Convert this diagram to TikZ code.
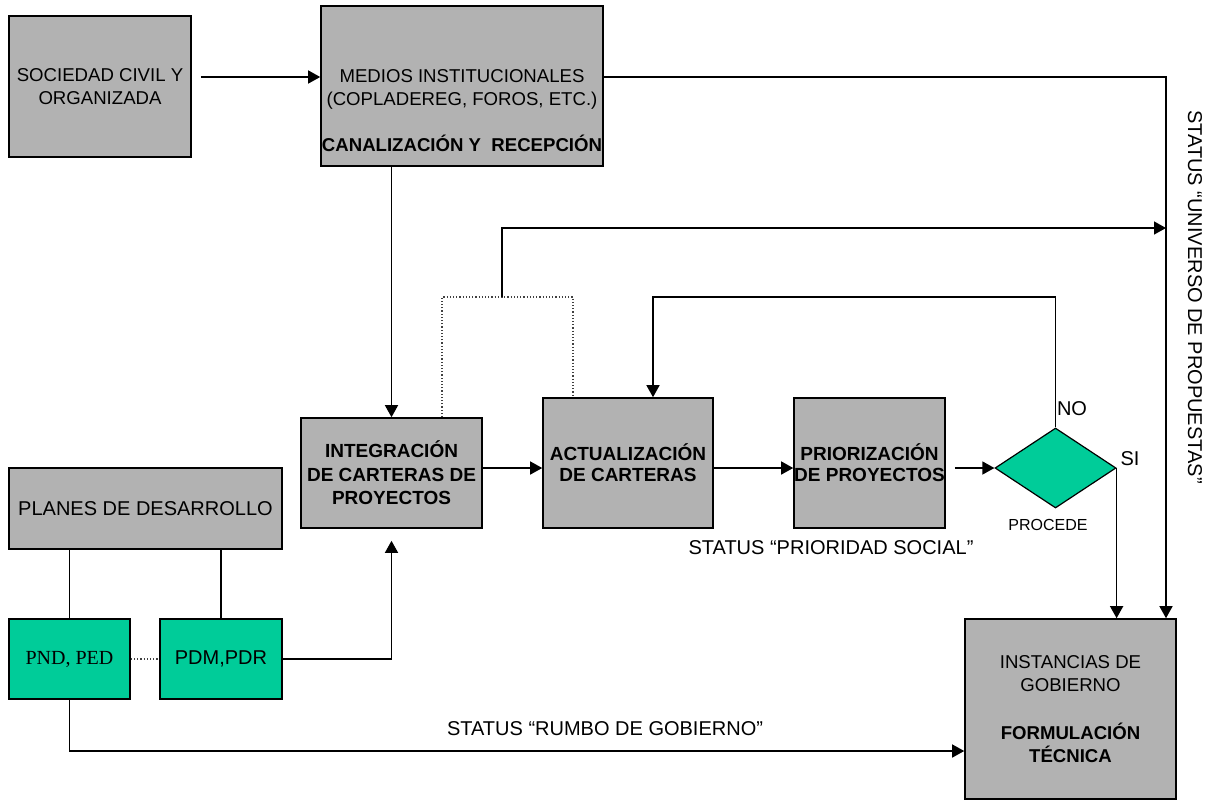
\documentclass[tikz,border=0pt]{standalone}
\usepackage{fontspec}
\setmainfont{Liberation Sans}
\newfontfamily\romanfont{Liberation Serif}
\usetikzlibrary{arrows.meta,shapes.geometric}
\definecolor{boxgray}{HTML}{B2B2B2}
\definecolor{plangreen}{HTML}{00CC99}
\tikzset{
  caja/.style={draw, fill=boxgray, line width=0.8pt, inner sep=0pt, align=center},
  cajaverde/.style={caja, fill=plangreen},
  flecha/.style={-{Triangle[length=6pt,width=6.5pt]}, line width=0.7pt},
  linea/.style={line width=0.7pt},
  punteado/.style={densely dotted, line width=0.6pt, draw=black!75},
  etiqueta/.style={font=\fontsize{10}{12}\selectfont},
}

\begin{document}
\begin{tikzpicture}[x=0.5pt, y=-0.5pt, font=\fontsize{9.3}{11.5}\selectfont]
\useasboundingbox (0,0) rectangle (1215,800);

% cajas
\node[caja, minimum width=91pt, minimum height=70.5pt] (soc) at (100,86.5) {SOCIEDAD CIVIL Y\\ORGANIZADA};
\node[caja, minimum width=141pt, minimum height=80pt] (medios) at (462,86) {};
\node (mediosT) at (462,111) [align=center] {MEDIOS INSTITUCIONALES\\(COPLADEREG, FOROS, ETC.)\\[11.5pt]\textbf{CANALIZACIÓN Y\ \ RECEPCIÓN}};
\node[caja, minimum width=90.5pt, minimum height=55pt, font=\fontsize{9.5}{11.8}\selectfont\bfseries] (integ) at (391.5,473) {INTEGRACIÓN\\DE CARTERAS DE\\PROYECTOS};
\node[caja, minimum width=85pt, minimum height=65pt, font=\fontsize{9.5}{10.5}\selectfont\bfseries] (actual) at (628,463) {ACTUALIZACIÓN\\DE CARTERAS};
\node[caja, minimum width=75.5pt, minimum height=65pt, font=\fontsize{9.5}{10.5}\selectfont\bfseries] (prior) at (869.5,463) {PRIORIZACIÓN\\DE PROYECTOS};
\node[diamond, draw, fill=plangreen, line width=0.6pt, inner sep=0pt, minimum width=60.5pt, minimum height=40pt] (proc) at (1055.5,468) {};
\node[caja, minimum width=105.5pt, minimum height=90pt] (inst) at (1070.5,709) {INSTANCIAS DE\\GOBIERNO\\[12.5pt]\textbf{FORMULACIÓN}\\\textbf{TÉCNICA}};
\node[caja, minimum width=136.5pt, minimum height=40.5pt, etiqueta] (planes) at (145.5,508.5) {PLANES DE DESARROLLO};
\node[cajaverde, minimum width=60.5pt, minimum height=40pt, font=\fontsize{10}{12}\romanfont] (pnd) at (69.5,659) {PND, PED};
\node[cajaverde, minimum width=61pt, minimum height=40pt, etiqueta] (pdm) at (221,659) {PDM,PDR};

% textos sueltos
\node[etiqueta] (procT) at (1048,525) [font=\fontsize{8}{10}\selectfont] {PROCEDE};
\node[etiqueta] (no) at (1072,409) {NO};
\node[etiqueta] (si) at (1130,459) {SI};
\node[etiqueta] (social) at (831,548) {STATUS “PRIORIDAD SOCIAL”};
\node[etiqueta] (rumbo) at (605,729) {STATUS “RUMBO DE GOBIERNO”};
\node[etiqueta, rotate=-90] (universo) at (1195,297) {STATUS “UNIVERSO DE PROPUESTAS”};

% puntos de quiebre
\coordinate (filaA) at (0,77);
\coordinate (filaC) at (0,228);
\coordinate (filaD) at (0,751);
\coordinate (colR) at (1166,0);
\coordinate (nodoB) at (502,297);
\coordinate (vueltaNO) at (653,297);

% conectores
\draw[flecha, shorten <=4.5pt] (soc.east |- filaA) -- (medios.west |- filaA);
\draw[flecha] (medios.east |- filaA) -| (colR |- inst.north);
\draw[flecha] (integ.north |- medios.south) -- (integ.north);
\draw[punteado] ([xshift=25.25pt]integ.north) |- (nodoB) -| ([xshift=-27.5pt]actual.north);
\draw[flecha] (nodoB) |- (colR |- filaC);
\draw[flecha] (integ.east |- proc) -- (actual.west |- proc);
\draw[flecha] (actual.east |- proc) -- (prior.west |- proc);
\draw[flecha, shorten <=4.5pt] (prior.east |- proc) -- (proc.west);
\draw[flecha] (proc.north) |- (vueltaNO) -- (vueltaNO |- actual.north);
\draw[flecha] (proc.east) -- (proc.east |- inst.north);
\draw[linea] (pnd.north |- planes.south) -- (pnd.north);
\draw[linea] (pdm.north |- planes.south) -- (pdm.north);
\draw[punteado] (pnd.east) -- (pdm.west);
\draw[flecha] (pdm.east) -| ([yshift=-6pt]integ.south);
\draw[flecha] (pnd.south) |- (inst.west |- filaD);

\end{tikzpicture}
\end{document}
